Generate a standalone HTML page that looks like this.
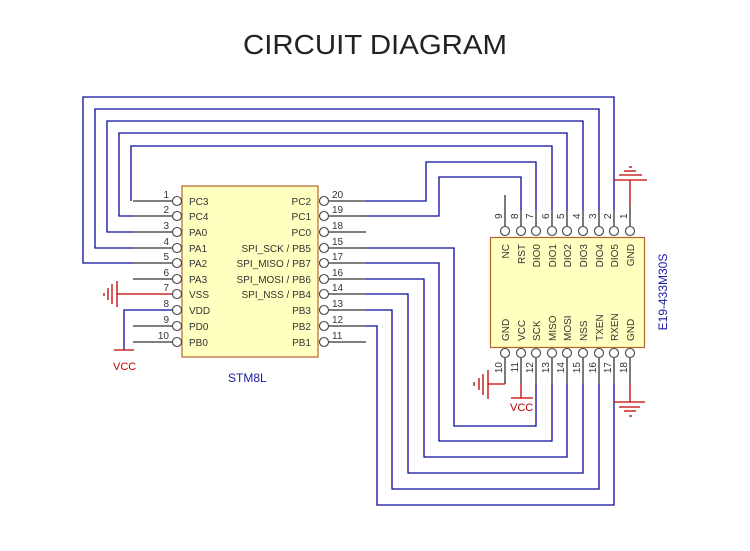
<!DOCTYPE html>
<html><head><meta charset="utf-8"><style>
html,body{margin:0;padding:0;background:#fff;}
svg{display:block;}
text{font-family:"Liberation Sans",sans-serif;}
</style></head><body>
<svg width="750" height="551" viewBox="0 0 750 551" xmlns="http://www.w3.org/2000/svg">
<text x="375" y="54" font-size="28" fill="#222" text-anchor="middle" textLength="264" lengthAdjust="spacingAndGlyphs">CIRCUIT DIAGRAM</text>

<rect x="182" y="186" width="136" height="171" fill="#ffffc0" stroke="#b4642a" stroke-width="1.2"/>
<rect x="490.5" y="237.5" width="154" height="110" fill="#ffffc0" stroke="#b4642a" stroke-width="1.2"/>

<g fill="none" stroke-width="1.3">
<g stroke="#0a0aa0">
<polyline points="133,263 83,263 83,97 614,97 614,210"/>
<polyline points="133,248 95,248 95,109 599,109 599,210"/>
<polyline points="133,232 107,232 107,121 583,121 583,210"/>
<polyline points="133,216 119,216 119,133 567,133 567,210"/>
<polyline points="131,201 131,146 552,146 552,210"/>
<polyline points="366,201 426,201 426,162 536,162 536,210"/>
<polyline points="366,216 439,216 439,177 521,177 521,210"/>
<polyline points="366,248 454,248 454,426 536,426 536,384"/>
<polyline points="366,263 439,263 439,441 552,441 552,384"/>
<polyline points="366,279 424,279 424,457 567,457 567,384"/>
<polyline points="366,294 408,294 408,473 583,473 583,384"/>
<polyline points="366,310 392,310 392,489 599,489 599,384"/>
<polyline points="366,326 377,326 377,505 614,505 614,384"/>
<polyline points="172,310 124,310 124,350"/>
</g>
<g stroke="#333">
<line x1="133" y1="201" x2="172" y2="201"/><line x1="133" y1="216" x2="172" y2="216"/>
<line x1="133" y1="232" x2="172" y2="232"/><line x1="133" y1="248" x2="172" y2="248"/>
<line x1="133" y1="263" x2="172" y2="263"/><line x1="133" y1="279" x2="172" y2="279"/>
<line x1="133" y1="326" x2="172" y2="326"/><line x1="133" y1="342" x2="172" y2="342"/>
<line x1="329" y1="201" x2="366" y2="201"/><line x1="329" y1="216" x2="366" y2="216"/>
<line x1="329" y1="232" x2="366" y2="232"/><line x1="329" y1="248" x2="366" y2="248"/>
<line x1="329" y1="263" x2="366" y2="263"/><line x1="329" y1="279" x2="366" y2="279"/>
<line x1="329" y1="294" x2="366" y2="294"/><line x1="329" y1="310" x2="366" y2="310"/>
<line x1="329" y1="326" x2="366" y2="326"/><line x1="329" y1="342" x2="366" y2="342"/>
<line x1="505" y1="195" x2="505" y2="226"/><line x1="521" y1="210" x2="521" y2="226"/>
<line x1="536" y1="210" x2="536" y2="226"/><line x1="552" y1="210" x2="552" y2="226"/>
<line x1="567" y1="210" x2="567" y2="226"/><line x1="583" y1="210" x2="583" y2="226"/>
<line x1="599" y1="210" x2="599" y2="226"/><line x1="614" y1="210" x2="614" y2="226"/>
<line x1="630" y1="205" x2="630" y2="226"/>
<line x1="505" y1="358" x2="505" y2="384"/><line x1="521" y1="358" x2="521" y2="384"/>
<line x1="536" y1="358" x2="536" y2="384"/><line x1="552" y1="358" x2="552" y2="384"/>
<line x1="567" y1="358" x2="567" y2="384"/><line x1="583" y1="358" x2="583" y2="384"/>
<line x1="599" y1="358" x2="599" y2="384"/><line x1="614" y1="358" x2="614" y2="384"/>
<line x1="630" y1="358" x2="630" y2="384"/>
</g>
<g stroke="#c00000">
<line x1="172" y1="294" x2="117" y2="294"/>
<line x1="117" y1="281" x2="117" y2="307"/><line x1="112" y1="284" x2="112" y2="304"/>
<line x1="108" y1="288" x2="108" y2="300"/><line x1="104" y1="293" x2="104" y2="296"/>
<line x1="114" y1="350" x2="134" y2="350"/>
<line x1="630" y1="205" x2="630" y2="180"/>
<line x1="614" y1="180" x2="647" y2="180"/><line x1="619" y1="175" x2="642" y2="175"/>
<line x1="624" y1="171" x2="636" y2="171"/><line x1="629" y1="167" x2="632" y2="167"/>
<line x1="505" y1="384" x2="488" y2="384"/>
<line x1="488" y1="370" x2="488" y2="399"/><line x1="483" y1="374" x2="483" y2="395"/>
<line x1="479" y1="378" x2="479" y2="390"/><line x1="474" y1="382" x2="474" y2="386"/>
<line x1="521" y1="384" x2="521" y2="398"/><line x1="511" y1="398" x2="533" y2="398"/>
<line x1="630" y1="384" x2="630" y2="402"/>
<line x1="614" y1="402" x2="645" y2="402"/><line x1="619" y1="407" x2="640" y2="407"/>
<line x1="624" y1="411" x2="636" y2="411"/><line x1="629" y1="416" x2="632" y2="416"/>
</g>
<g stroke="#444" fill="#fff" stroke-width="1.1">
<circle cx="177" cy="201" r="4.5"/><circle cx="177" cy="216" r="4.5"/><circle cx="177" cy="232" r="4.5"/>
<circle cx="177" cy="248" r="4.5"/><circle cx="177" cy="263" r="4.5"/><circle cx="177" cy="279" r="4.5"/>
<circle cx="177" cy="294" r="4.5"/><circle cx="177" cy="310" r="4.5"/><circle cx="177" cy="326" r="4.5"/>
<circle cx="177" cy="342" r="4.5"/>
<circle cx="324" cy="201" r="4.5"/><circle cx="324" cy="216" r="4.5"/><circle cx="324" cy="232" r="4.5"/>
<circle cx="324" cy="248" r="4.5"/><circle cx="324" cy="263" r="4.5"/><circle cx="324" cy="279" r="4.5"/>
<circle cx="324" cy="294" r="4.5"/><circle cx="324" cy="310" r="4.5"/><circle cx="324" cy="326" r="4.5"/>
<circle cx="324" cy="342" r="4.5"/>
<circle cx="505" cy="231" r="4.5"/><circle cx="521" cy="231" r="4.5"/><circle cx="536" cy="231" r="4.5"/>
<circle cx="552" cy="231" r="4.5"/><circle cx="567" cy="231" r="4.5"/><circle cx="583" cy="231" r="4.5"/>
<circle cx="599" cy="231" r="4.5"/><circle cx="614" cy="231" r="4.5"/><circle cx="630" cy="231" r="4.5"/>
<circle cx="505" cy="353" r="4.5"/><circle cx="521" cy="353" r="4.5"/><circle cx="536" cy="353" r="4.5"/>
<circle cx="552" cy="353" r="4.5"/><circle cx="567" cy="353" r="4.5"/><circle cx="583" cy="353" r="4.5"/>
<circle cx="599" cy="353" r="4.5"/><circle cx="614" cy="353" r="4.5"/><circle cx="630" cy="353" r="4.5"/>
</g>
</g>

<g font-size="10" fill="#333">
<g text-anchor="end">
<text x="169" y="198">1</text><text x="169" y="213">2</text><text x="169" y="229">3</text>
<text x="169" y="245">4</text><text x="169" y="260">5</text><text x="169" y="276">6</text>
<text x="169" y="291">7</text><text x="169" y="307">8</text><text x="169" y="323">9</text>
<text x="169" y="339">10</text>
<text x="311" y="205">PC2</text><text x="311" y="220">PC1</text><text x="311" y="236">PC0</text>
<text x="311" y="252">SPI_SCK / PB5</text><text x="311" y="267">SPI_MISO / PB7</text>
<text x="311" y="283">SPI_MOSI / PB6</text><text x="311" y="298">SPI_NSS / PB4</text>
<text x="311" y="314">PB3</text><text x="311" y="330">PB2</text><text x="311" y="346">PB1</text>
</g>
<text x="189" y="205">PC3</text><text x="189" y="220">PC4</text><text x="189" y="236">PA0</text>
<text x="189" y="252">PA1</text><text x="189" y="267">PA2</text><text x="189" y="283">PA3</text>
<text x="189" y="298">VSS</text><text x="189" y="314">VDD</text><text x="189" y="330">PD0</text>
<text x="189" y="346">PB0</text>
<text x="332" y="198">20</text><text x="332" y="213">19</text><text x="332" y="229">18</text>
<text x="332" y="245">15</text><text x="332" y="260">17</text><text x="332" y="276">16</text>
<text x="332" y="291">14</text><text x="332" y="307">13</text><text x="332" y="323">12</text>
<text x="332" y="339">11</text>
</g>
<text x="228" y="382" font-size="12" fill="#1a1aa0">STM8L</text>
<text x="113" y="370" font-size="11" fill="#c00000">VCC</text>
<text x="510" y="411" font-size="11" fill="#c00000">VCC</text>
<text transform="translate(667,292) rotate(-90)" font-size="12" fill="#1a1aa0" text-anchor="middle">E19-433M30S</text>

<g font-size="10" fill="#333">
<g text-anchor="start">
<text transform="translate(502,219) rotate(-90)">9</text>
<text transform="translate(518,219) rotate(-90)">8</text>
<text transform="translate(533,219) rotate(-90)">7</text>
<text transform="translate(549,219) rotate(-90)">6</text>
<text transform="translate(564,219) rotate(-90)">5</text>
<text transform="translate(580,219) rotate(-90)">4</text>
<text transform="translate(596,219) rotate(-90)">3</text>
<text transform="translate(611,219) rotate(-90)">2</text>
<text transform="translate(627,219) rotate(-90)">1</text>
</g>
<g text-anchor="end">
<text transform="translate(509,244) rotate(-90)">NC</text>
<text transform="translate(525,244) rotate(-90)">RST</text>
<text transform="translate(540,244) rotate(-90)">DIO0</text>
<text transform="translate(556,244) rotate(-90)">DIO1</text>
<text transform="translate(571,244) rotate(-90)">DIO2</text>
<text transform="translate(587,244) rotate(-90)">DIO3</text>
<text transform="translate(603,244) rotate(-90)">DIO4</text>
<text transform="translate(618,244) rotate(-90)">DIO5</text>
<text transform="translate(634,244) rotate(-90)">GND</text>
</g>
<g text-anchor="start">
<text transform="translate(509,341) rotate(-90)">GND</text>
<text transform="translate(525,341) rotate(-90)">VCC</text>
<text transform="translate(540,341) rotate(-90)">SCK</text>
<text transform="translate(556,341) rotate(-90)">MISO</text>
<text transform="translate(571,341) rotate(-90)">MOSI</text>
<text transform="translate(587,341) rotate(-90)">NSS</text>
<text transform="translate(603,341) rotate(-90)">TXEN</text>
<text transform="translate(618,341) rotate(-90)">RXEN</text>
<text transform="translate(634,341) rotate(-90)">GND</text>
</g>
<g text-anchor="end">
<text transform="translate(502,362) rotate(-90)">10</text>
<text transform="translate(518,362) rotate(-90)">11</text>
<text transform="translate(533,362) rotate(-90)">12</text>
<text transform="translate(549,362) rotate(-90)">13</text>
<text transform="translate(564,362) rotate(-90)">14</text>
<text transform="translate(580,362) rotate(-90)">15</text>
<text transform="translate(596,362) rotate(-90)">16</text>
<text transform="translate(611,362) rotate(-90)">17</text>
<text transform="translate(627,362) rotate(-90)">18</text>
</g>
</g>
</svg>
</body></html>
